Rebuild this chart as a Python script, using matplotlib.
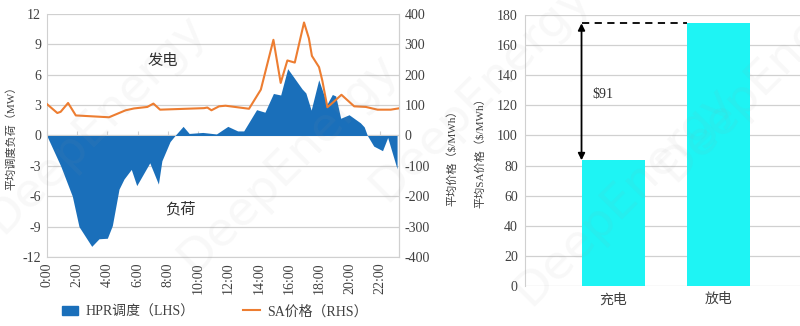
import matplotlib
matplotlib.use('Agg')
import matplotlib.pyplot as plt
from matplotlib.patches import Patch
from matplotlib.lines import Line2D

plt.rcParams['font.family'] = ['Liberation Serif', 'Noto Sans CJK SC', 'DejaVu Sans']

# ---- data: left chart ----
hpr_hours = [0.0, 0.92, 1.69, 2.13, 2.97, 3.45, 4.0, 4.33, 4.77, 5.1, 5.58, 5.94,
             6.8, 7.37, 7.6, 8.14, 8.47, 9.0, 9.4, 10.3, 11.2, 11.95, 12.6, 13.0,
             13.85, 14.4, 14.96, 15.44, 15.9, 16.85, 17.1, 17.45, 17.95, 18.5,
             18.85, 19.07, 19.4, 19.95, 20.7, 20.95, 21.16, 21.58, 22.16, 22.5,
             23.12]
hpr_mw = [0.0, -3.0, -6.0, -9.0, -10.95, -10.2, -10.15, -8.9, -5.3, -4.3, -3.35, -4.95,
          -2.7, -4.8, -2.5, -0.6, 0.0, 0.9, 0.2, 0.3, 0.15, 0.9, 0.45, 0.45,
          2.55, 2.3, 4.15, 4.0, 6.6, 4.6, 4.2, 2.5, 5.5, 3.1,
          4.05, 3.9, 1.7, 2.05, 1.25, 0.85, 0.0, -1.05, -1.5, -0.2,
          -3.3]

price_hours = [0.0, 0.7, 0.92, 1.41, 1.92, 4.11, 5.21, 5.76, 6.64, 7.04, 7.48, 10.38,
               10.6, 10.87, 11.37, 11.8, 13.35, 14.13, 14.96, 15.44, 15.88, 16.37,
               16.98, 17.3, 17.5, 17.97, 18.19, 18.52, 18.85, 19.45, 20.29, 21.06,
               21.83, 22.7, 23.2]
price_vals = [104, 74, 78, 107, 66, 60, 83, 89, 94, 105, 85, 90,
              92, 83, 96, 98, 88, 151, 315, 173, 247, 240,
              372, 320, 262, 225, 180, 93, 107, 134, 96, 94,
              85, 85, 89]

time_ticks = list(range(0, 24, 2))
time_labels = [f'{h}:00' for h in time_ticks]
left_ticks = list(range(-12, 13, 3))
right_ticks = list(range(-400, 401, 100))

# ---- data: right chart ----
bar_cats = ['充电', '放电']
bar_vals = [83.5, 174.5]
spread_label = '$91'
bar_ticks = list(range(0, 181, 20))

BLUE = '#1a6fba'
ORANGE = '#ED7D31'
CYAN = '#1ef4f4'
GRID = '#d0d0d0'
TXT = '#404040'

fig = plt.figure(figsize=(8.0, 3.26), dpi=100)

# ---------------- left chart ----------------
ax = fig.add_axes([0.0584, 0.2117, 0.4404, 0.7454])
ax.fill_between(hpr_hours, hpr_mw, 0, color=BLUE, linewidth=0, zorder=2)
ax.set_xlim(0, 23.25)
ax.set_ylim(-12, 12)
ax.set_yticks(left_ticks)
ax.set_yticklabels([str(t) for t in left_ticks])
ax.grid(axis='y', color=GRID, linewidth=0.9)
ax.set_axisbelow(True)
ax.set_xticks(time_ticks)
ax.set_xticklabels(time_labels, rotation=90)
ax.tick_params(axis='x', length=0, pad=4, labelsize=10, colors=TXT)
ax.tick_params(axis='y', length=0, pad=4, labelsize=10, colors=TXT)
ax.spines['top'].set_visible(False)
for s in ['left', 'right', 'bottom']:
    ax.spines[s].set_color(GRID)
ax.set_ylabel('平均调度负荷（MW）', fontsize=8, color=TXT)
ax.yaxis.set_label_coords(-0.085, 0.5)

# zero axis with small tick marks
sec = ax.secondary_xaxis(0.5)
sec.set_xticks(time_ticks, labels=[''] * len(time_ticks))
sec.tick_params(axis='x', direction='out', length=3, color=GRID)
for s in sec.spines.values():
    s.set_color(GRID)

ax2 = ax.twinx()
ax2.plot(price_hours, price_vals, color=ORANGE, linewidth=1.5, zorder=3)
ax2.set_ylim(-400, 400)
ax2.set_yticks(right_ticks)
ax2.set_yticklabels([str(t) for t in right_ticks])
ax2.tick_params(axis='y', length=0, pad=4, labelsize=10, colors=TXT)
for s in ['top', 'left', 'bottom']:
    ax2.spines[s].set_visible(False)
ax2.spines['right'].set_color(GRID)
ax2.set_ylabel('平均价格（$/MWh）', fontsize=8, color=TXT)
ax2.yaxis.set_label_coords(1.135, 0.42)

ax.text(7.66, 7.4, '发电', fontsize=11, color='#303030', ha='center', va='center', zorder=5)
ax.text(8.8, -7.3, '负荷', fontsize=11, color='#303030', ha='center', va='center', zorder=5)

handles = [Patch(facecolor=BLUE, edgecolor=BLUE),
           Line2D([0], [0], color=ORANGE, linewidth=1.5)]
fig.legend(handles, ['HPR调度（LHS）', 'SA价格（RHS）'], loc='center',
           bbox_to_anchor=(0.268, 0.044), ncol=2, frameon=False, fontsize=10,
           columnspacing=3.5, handlelength=1.2, handletextpad=0.5,
           labelcolor=TXT)

# ---------------- right chart ----------------
bx = fig.add_axes([0.656, 0.1227, 0.344, 0.8313])
xpos = list(range(len(bar_cats)))
bx.bar(xpos, bar_vals, width=0.6, color=CYAN, zorder=2)
bx.set_xlim(-0.84, 1.78)
bx.set_ylim(0, 180)
bx.set_yticks(bar_ticks)
bx.set_yticklabels([str(t) for t in bar_ticks])
bx.set_xticks(xpos)
bx.set_xticklabels(bar_cats)
bx.grid(axis='y', color=GRID, linewidth=0.9)
bx.set_axisbelow(True)
bx.tick_params(axis='both', length=0, labelsize=10, colors=TXT, pad=5)
for s in ['top', 'right', 'bottom']:
    bx.spines[s].set_visible(False)
bx.spines['left'].set_color(GRID)
bx.set_ylabel('平均SA价格（$/MWh）', fontsize=8, color=TXT)
bx.yaxis.set_label_coords(-0.145, 0.5)

x_left0 = xpos[0] - 0.3
x_left1 = xpos[1] - 0.3
bx.annotate('', xy=(x_left0, bar_vals[1]), xytext=(x_left0, bar_vals[0]),
            arrowprops=dict(arrowstyle='<|-|>', color='black', lw=1.3,
                            mutation_scale=10, shrinkA=0, shrinkB=0), zorder=4)
bx.plot([x_left0, x_left1], [bar_vals[1], bar_vals[1]], color='black',
        linestyle=(0, (4, 3)), linewidth=1.3, zorder=3)
bx.text(x_left0 + 0.1, 127, spread_label, fontsize=10, color='#303030',
        ha='left', va='center')

# ---------------- watermark ----------------
for (wx, wy) in [(0.12, 0.62), (0.36, 0.50), (0.60, 0.72), (0.78, 0.40), (0.96, 0.78)]:
    fig.text(wx, wy, 'DeepEnergy', fontsize=34, color='#9a9a9a', alpha=0.07,
             rotation=45, ha='center', va='center', family='DejaVu Sans', zorder=10)

fig.savefig('out.png', dpi=100)
